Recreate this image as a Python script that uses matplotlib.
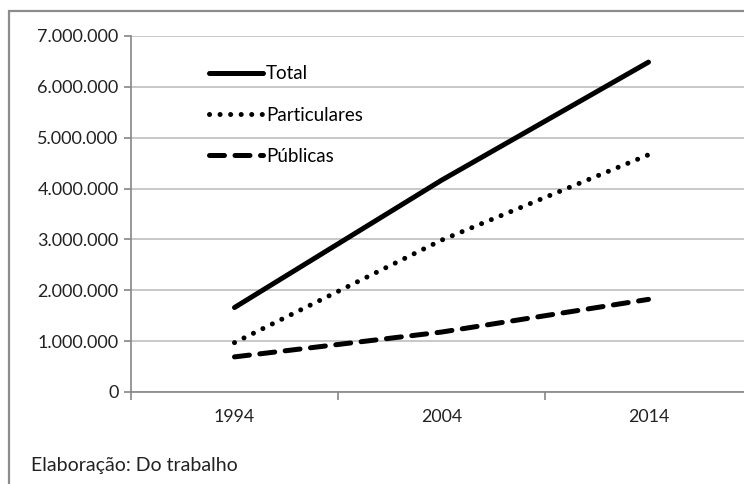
import matplotlib
matplotlib.use("Agg")
import matplotlib.pyplot as plt
from matplotlib.patches import Rectangle
from matplotlib.ticker import FuncFormatter

plt.rcParams['font.family'] = ['Lato', 'DejaVu Sans']

anos = ['1994', '2004', '2014']
total = [1661034, 4163733, 6486171]
particulares = [970584, 2985405, 4664542]
publicas = [690450, 1178328, 1821629]

grid_cor = '#bfbfbf'
eixo_cor = '#868686'

fig = plt.figure(figsize=(7.44, 4.84), dpi=100)
W, H = 744, 484

# moldura cinza do grafico (continua alem da borda direita/inferior)
fig.patches.append(Rectangle((9 / W, -0.1), 1.1, 1 - 11 / H + 0.1,
                             transform=fig.transFigure, fill=False,
                             edgecolor='#8c8c8c', lw=1.6))

ax = fig.add_axes([131 / W, 1 - 392 / H, (752 - 131) / W, (392 - 36) / H])
x = range(len(anos))

ax.plot(x, total, color='black', lw=3.6, solid_capstyle='round', label='Total')
ax.plot(x, particulares, color='black', lw=3.6, linestyle=(0, (0.01, 2.1)),
        dash_capstyle='round', label='Particulares')
ax.plot(x, publicas, color='black', lw=3.6, linestyle=(0, (3.0, 2.1)),
        dash_capstyle='round', label='Públicas')

ax.set_xlim(-0.5, 2.5)
ax.set_ylim(0, 7000000)
ax.set_yticks(range(0, 7000001, 1000000))
ax.yaxis.set_major_formatter(FuncFormatter(lambda v, p: f"{int(v):,}".replace(',', '.')))
ax.set_xticks([-0.5, 0.5, 1.5, 2.5])
ax.set_xticklabels([])
ax.set_xticks(list(x), minor=True)
ax.set_xticklabels(anos, minor=True)

ax.grid(axis='y', color=grid_cor, lw=1.2)
ax.set_axisbelow(True)
for s in ['top', 'right']:
    ax.spines[s].set_visible(False)
for s in ['left', 'bottom']:
    ax.spines[s].set_color(eixo_cor)
    ax.spines[s].set_linewidth(1.2)

ax.tick_params(axis='y', length=5, color=eixo_cor, width=1.2, labelsize=13,
               labelcolor='#222222', pad=4)
ax.tick_params(axis='x', which='major', length=6, color=eixo_cor, width=1.2,
               direction='out')
ax.tick_params(axis='x', which='minor', length=0, labelsize=12.8,
               labelcolor='#222222', pad=12)

ax.legend(loc='upper left', bbox_to_anchor=(0.125, 0.918), frameon=False,
          fontsize=13.5, handlelength=2.9, handletextpad=0.15,
          labelspacing=1.3, borderpad=0, borderaxespad=0)

fig.text(31 / W, 1 - 465 / H, 'Elaboração: Do trabalho', fontsize=14,
         color='#222222', va='center')

fig.savefig('out.png', dpi=100)
